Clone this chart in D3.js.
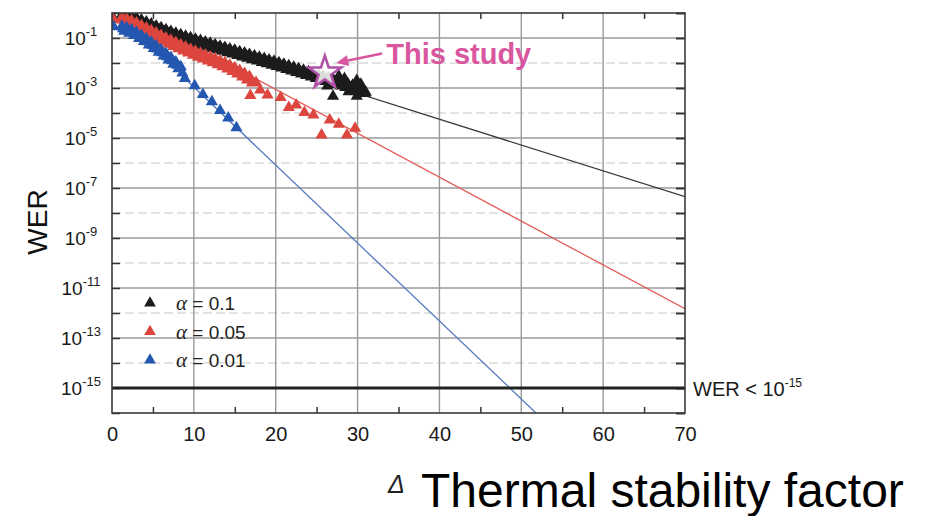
<!DOCTYPE html>
<html><head><meta charset="utf-8">
<script src="https://cdn.jsdelivr.net/npm/d3@7"></script>
<style>
body{margin:0;background:#fff;}
text{font-family:"Liberation Sans",Arial,Helvetica,sans-serif;}
</style></head><body>
<svg id="chart" width="926" height="516"></svg>
<script>
// Axis ticks
const xTicks = [0, 10, 20, 30, 40, 50, 60, 70];
const xMinorTicks = [5, 15, 25, 35, 45, 55, 65];
const yDecades = d3.range(-16, 1);               // every decade 10^-16 .. 10^0
const yLabelExponents = [-1, -3, -5, -7, -9, -11, -13, -15];

// Measured write error rate, [Δ, log10(WER)]
const blackPoints = [[0.2,-0.22],[1.2,-0.07],[1.5,-0.24],[1.8,-0.09],[2.1,-0.28],[2.4,-0.13],[2.7,-0.34],[3.0,-0.20],[3.3,-0.42],[3.6,-0.28],[3.9,-0.50],[4.2,-0.36],[4.5,-0.58],[4.8,-0.44],[5.1,-0.66],[5.4,-0.52],[5.7,-0.74],[6.0,-0.59],[6.3,-0.81],[6.6,-0.67],[6.9,-0.88],[7.2,-0.74],[7.5,-0.95],[7.8,-0.81],[8.1,-1.02],[8.4,-0.87],[8.7,-1.08],[9.0,-0.93],[9.3,-1.14],[9.6,-0.99],[9.9,-1.20],[10.2,-1.05],[10.5,-1.26],[10.8,-1.10],[11.1,-1.31],[11.4,-1.16],[11.7,-1.37],[12.0,-1.21],[12.3,-1.42],[12.6,-1.27],[12.9,-1.48],[13.2,-1.33],[13.5,-1.53],[13.8,-1.38],[14.1,-1.59],[14.4,-1.44],[14.7,-1.64],[15.0,-1.49],[15.3,-1.70],[15.6,-1.55],[15.9,-1.76],[16.2,-1.60],[16.5,-1.81],[16.8,-1.66],[17.1,-1.87],[17.4,-1.71],[17.7,-1.92],[18.0,-1.77],[18.3,-1.98],[18.6,-1.82],[18.9,-2.03],[19.2,-1.88],[19.5,-2.09],[19.8,-1.93],[20.1,-2.14],[20.4,-1.99],[20.7,-2.20],[21.0,-2.05],[21.3,-2.26],[21.6,-2.11],[21.9,-2.32],[22.2,-2.17],[22.5,-2.38],[22.8,-2.23],[23.1,-2.44],[23.4,-2.29],[23.7,-2.50],[24.0,-2.35],[24.3,-2.56],[24.6,-2.41],[24.9,-2.62],[25.2,-2.47],[25.5,-2.68],[25.8,-2.53],[26.1,-2.74],[26.4,-2.59],[26.7,-2.80],[27.0,-2.65],[27.3,-2.86],[27.6,-2.71],[27.9,-2.92],[28.2,-2.77],[28.5,-2.98],[28.8,-2.83],[29.1,-3.04],[29.4,-2.89],[29.7,-3.10],[30.0,-2.95],[30.3,-3.16],[30.6,-3.01],[30.9,-3.22],[27.7,-2.52],[29.9,-2.70],[27.0,-3.33],[29.9,-3.33],[26.3,-2.92],[28.9,-3.15],[31.0,-3.17],[30.4,-2.85],[28.4,-2.62],
  [1.35,-0.15],[1.65,-0.16],[1.95,-0.18],[2.25,-0.20],[2.55,-0.23],[2.85,-0.27],[3.15,-0.31],[3.45,-0.35],[3.75,-0.39],[4.05,-0.43],[4.35,-0.47],[4.65,-0.51],[4.95,-0.55],[5.25,-0.59],[5.55,-0.63],[5.85,-0.66],[6.15,-0.70],[6.45,-0.74],[6.75,-0.77],[7.05,-0.81],[7.35,-0.84],[7.65,-0.88],[7.95,-0.91],[8.25,-0.94],[8.55,-0.97],[8.85,-1.00],[9.15,-1.03],[9.45,-1.06],[9.75,-1.09],[10.05,-1.12],[10.35,-1.15],[10.65,-1.18],[10.95,-1.20],[11.25,-1.23],[11.55,-1.26],[11.85,-1.29],[12.15,-1.31],[12.45,-1.34],[12.75,-1.37],[13.05,-1.40],[13.35,-1.43],[13.65,-1.45],[13.95,-1.48],[14.25,-1.51],[14.55,-1.54],[14.85,-1.56],[15.15,-1.59],[15.45,-1.62],[15.75,-1.65],[16.05,-1.68],[16.35,-1.70],[16.65,-1.73],[16.95,-1.76],[17.25,-1.79],[17.55,-1.81],[17.85,-1.84],[18.15,-1.87],[18.45,-1.90],[18.75,-1.92],[19.05,-1.95],[19.35,-1.98],[19.65,-2.01],[19.95,-2.03],[20.25,-2.06],[20.55,-2.09],[20.85,-2.12],[21.15,-2.15],[21.45,-2.18],[21.75,-2.21],[22.05,-2.24],[22.35,-2.27],[22.65,-2.30],[22.95,-2.33],[23.25,-2.36],[23.55,-2.39],[23.85,-2.42],[24.15,-2.45],[24.45,-2.48],[24.75,-2.51],[25.05,-2.54],[25.35,-2.57],[25.65,-2.60],[25.95,-2.63],[26.25,-2.66],[26.55,-2.69],[26.85,-2.72],[27.15,-2.75],[27.45,-2.78],[27.75,-2.81],[28.05,-2.84],[28.35,-2.87],[28.65,-2.90],[28.95,-2.93],[29.25,-2.96],[29.55,-2.99],[29.85,-3.02],[30.15,-3.05],[30.45,-3.08],[30.75,-3.11]];
const redPoints = [[0.2,-0.27],[1.2,-0.17],[1.5,-0.39],[1.8,-0.23],[2.1,-0.47],[2.4,-0.31],[2.7,-0.55],[3.0,-0.40],[3.3,-0.65],[3.6,-0.50],[3.9,-0.75],[4.2,-0.60],[4.5,-0.85],[4.8,-0.70],[5.1,-0.95],[5.4,-0.80],[5.7,-1.05],[6.0,-0.90],[6.3,-1.15],[6.6,-1.00],[6.9,-1.25],[7.2,-1.09],[7.5,-1.34],[7.8,-1.18],[8.1,-1.43],[8.4,-1.27],[8.7,-1.52],[9.0,-1.36],[9.3,-1.60],[9.6,-1.45],[9.9,-1.69],[10.2,-1.53],[10.5,-1.77],[10.8,-1.61],[11.1,-1.84],[11.4,-1.68],[11.7,-1.92],[12.0,-1.76],[12.3,-1.99],[12.6,-1.83],[12.9,-2.07],[13.2,-1.91],[13.5,-2.15],[13.8,-1.99],[14.1,-2.24],[14.4,-2.09],[14.7,-2.34],[15.0,-2.19],[15.3,-2.44],[15.6,-2.30],[15.9,-2.56],[16.2,-2.42],[16.5,-2.68],[16.8,-2.54],[17.1,-2.80],[16.9,-3.30],[17.6,-2.78],[18.1,-3.08],[19.0,-3.28],[20.6,-3.38],[21.6,-3.78],[22.5,-3.68],[23.5,-3.98],[24.6,-4.08],[25.6,-4.88],[26.6,-4.28],[27.7,-4.45],[28.7,-4.88],[29.7,-4.61],
  [1.35,-0.28],[1.65,-0.31],[1.95,-0.35],[2.25,-0.39],[2.55,-0.43],[2.85,-0.48],[3.15,-0.52],[3.45,-0.57],[3.75,-0.62],[4.05,-0.67],[4.35,-0.72],[4.65,-0.77],[4.95,-0.82],[5.25,-0.87],[5.55,-0.92],[5.85,-0.97],[6.15,-1.02],[6.45,-1.07],[6.75,-1.12],[7.05,-1.17],[7.35,-1.21],[7.65,-1.26],[7.95,-1.30],[8.25,-1.35],[8.55,-1.39],[8.85,-1.44],[9.15,-1.48],[9.45,-1.52],[9.75,-1.57],[10.05,-1.61],[10.35,-1.65],[10.65,-1.69],[10.95,-1.72],[11.25,-1.76],[11.55,-1.80],[11.85,-1.84],[12.15,-1.87],[12.45,-1.91],[12.75,-1.95],[13.05,-1.99],[13.35,-2.03],[13.65,-2.07],[13.95,-2.11],[14.25,-2.16],[14.55,-2.21],[14.85,-2.26],[15.15,-2.31],[15.45,-2.37],[15.75,-2.43],[16.05,-2.49],[16.35,-2.55],[16.65,-2.61],[16.95,-2.67]];
const bluePoints = [[0.2,-0.55],[1.2,-0.53],[1.5,-0.73],[1.8,-0.59],[2.1,-0.81],[2.4,-0.67],[2.7,-0.90],[3.0,-0.78],[3.3,-1.02],[3.6,-0.90],[3.9,-1.14],[4.2,-1.03],[4.5,-1.28],[4.8,-1.17],[5.1,-1.42],[5.4,-1.32],[5.7,-1.57],[6.0,-1.47],[6.3,-1.72],[6.6,-1.62],[6.9,-1.88],[7.2,-1.78],[7.5,-2.05],[7.8,-1.96],[8.1,-2.23],[8.4,-2.15],[8.6,-2.40],[8.9,-2.62],[10.1,-2.91],[11.1,-3.26],[12.2,-3.55],[13.2,-3.90],[14.2,-4.20],[15.2,-4.59],
  [1.35,-0.63],[1.65,-0.66],[1.95,-0.70],[2.25,-0.74],[2.55,-0.78],[2.85,-0.84],[3.15,-0.90],[3.45,-0.96],[3.75,-1.02],[4.05,-1.08],[4.35,-1.15],[4.65,-1.22],[4.95,-1.29],[5.25,-1.37],[5.55,-1.44],[5.85,-1.52],[6.15,-1.59],[6.45,-1.67],[6.75,-1.75],[7.05,-1.83],[7.35,-1.91],[7.65,-2.00],[7.95,-2.09],[8.25,-2.19]];

// Extrapolated fits, end points [Δ, log10(WER)]
const blackFit = [[20, -2.18], [70, -7.35]];
const redFit = [[17, -2.53], [70, -11.83]];
const blueFit = [[8.9, -2.62], [51.8, -16.0]];

const alphaValues = ["0.1", "0.05", "0.01"];
const seriesColors = ["#1c1c1c", "#dc463f", "#2457b0"];
const fitColors = ["#3a3a3a", "#e35a55", "#5578bf"];

const studyPoint = [26.0, -2.35];      // this work
const werLimitExp = -15;

const plot = {left: 112, right: 685, top: 13, bottom: 413};

const x = d3.scaleLinear().domain([0, 70]).range([plot.left, plot.right]);
const y = d3.scaleLog().domain([1e-16, 1]).range([plot.bottom, plot.top]);
const yE = e => y(Math.pow(10, e));

const svg = d3.select("#chart");

svg.append("defs").append("clipPath").attr("id", "plotClip")
  .append("rect").attr("x", plot.left).attr("y", plot.top)
  .attr("width", plot.right - plot.left).attr("height", plot.bottom - plot.top);

// horizontal grid: solid at odd decades, dashed at even
const gridG = svg.append("g");
gridG.selectAll("line.h").data(yDecades.filter(e => e > -16 && e < 0 && e !== werLimitExp))
  .join("line")
  .attr("x1", plot.left).attr("x2", plot.right)
  .attr("y1", d => yE(d)).attr("y2", d => yE(d))
  .attr("stroke", d => (d % 2 !== 0) ? "#9a9a9a" : "#c8c8c8")
  .attr("stroke-width", d => (d % 2 !== 0) ? 1.3 : 1.2)
  .attr("stroke-dasharray", d => (d % 2 !== 0) ? null : "9,4");

// vertical grid
gridG.selectAll("line.v").data(xTicks.slice(1, -1))
  .join("line")
  .attr("x1", d => x(d)).attr("x2", d => x(d))
  .attr("y1", plot.top).attr("y2", plot.bottom)
  .attr("stroke", "#999").attr("stroke-width", 1.4);

// ticks via axes (inward)
const fmtNone = () => "";
svg.append("g").attr("transform", `translate(${plot.left},0)`)
  .call(d3.axisRight(y).tickValues(yDecades.map(e => Math.pow(10, e))).tickSize(8).tickFormat(fmtNone))
  .call(g => g.select(".domain").remove())
  .call(g => g.selectAll("line").attr("stroke", "#333").attr("stroke-width", 1.5));
svg.append("g").attr("transform", `translate(${plot.right},0)`)
  .call(d3.axisLeft(y).tickValues(yDecades.map(e => Math.pow(10, e))).tickSize(9).tickFormat(fmtNone))
  .call(g => g.select(".domain").remove())
  .call(g => g.selectAll("line").attr("stroke", "#333").attr("stroke-width", 2));
svg.append("g").attr("transform", `translate(0,${plot.bottom})`)
  .call(d3.axisTop(x).tickValues(xMinorTicks).tickSize(6).tickFormat(fmtNone))
  .call(g => g.select(".domain").remove())
  .call(g => g.selectAll("line").attr("stroke", "#333").attr("stroke-width", 1.5));
svg.append("g").attr("transform", `translate(0,${plot.top})`)
  .call(d3.axisBottom(x).tickValues(xMinorTicks).tickSize(6).tickFormat(fmtNone))
  .call(g => g.select(".domain").remove())
  .call(g => g.selectAll("line").attr("stroke", "#333").attr("stroke-width", 1.5));

// x tick labels
svg.append("g").attr("transform", `translate(0,${plot.bottom})`)
  .call(d3.axisBottom(x).tickValues(xTicks).tickSize(0).tickPadding(28).tickFormat(d3.format("d")))
  .call(g => g.select(".domain").remove())
  .call(g => g.selectAll("text").attr("font-size", 20).attr("fill", "#1a1a1a")
     .attr("font-family", "'Liberation Sans', Arial, sans-serif").attr("dy", "0"));

// y tick labels 10^n
const yLab = svg.append("g").selectAll("text").data(yLabelExponents).join("text")
  .attr("x", 81).attr("y", d => yE(d) + 7)
  .attr("text-anchor", "middle").attr("fill", "#1a1a1a").attr("font-size", 19);
yLab.append("tspan").text("10");
yLab.append("tspan").attr("dy", -9).attr("font-size", 13).text(d => String(d));

// fit lines
const lineGen = d3.line().x(d => x(d[0])).y(d => yE(d[1]));
const fitG = svg.append("g").attr("clip-path", "url(#plotClip)");
[blackFit, redFit, blueFit].forEach((f, i) => {
  fitG.append("path").attr("d", lineGen(f)).attr("fill", "none")
    .attr("stroke", fitColors[i]).attr("stroke-width", 1.3);
});

// WER limit line
svg.append("line").attr("x1", plot.left).attr("x2", plot.right)
  .attr("y1", yE(werLimitExp)).attr("y2", yE(werLimitExp))
  .attr("stroke", "#222").attr("stroke-width", 3);

// markers
const tri = d3.symbol().type(d3.symbolTriangle).size(64);
const markG = svg.append("g").attr("clip-path", "url(#plotClip)");
[blackPoints, redPoints, bluePoints].forEach((pts, i) => {
  markG.append("g").selectAll("path").data(pts).join("path")
    .attr("d", tri)
    .attr("transform", d => `translate(${x(d[0])},${yE(d[1])})`)
    .attr("fill", seriesColors[i]);
});

// frame
svg.append("rect").attr("x", plot.left).attr("y", plot.top)
  .attr("width", plot.right - plot.left).attr("height", plot.bottom - plot.top)
  .attr("fill", "none").attr("stroke", "#3a3a3a").attr("stroke-width", 1.6);

// legend
const legG = svg.append("g");
alphaValues.forEach((a, i) => {
  const ly = 303 + i * 28.5;
  legG.append("path").attr("d", d3.symbol().type(d3.symbolTriangle).size(60)())
    .attr("transform", `translate(150,${ly})`).attr("fill", seriesColors[i]);
  const t = legG.append("text").attr("x", 176).attr("y", ly + 7).attr("font-size", 19).attr("fill", "#222");
  t.append("tspan").attr("font-family", "'Liberation Serif', 'Times New Roman', serif").attr("font-style", "italic").attr("font-size", 21).text("α");
  t.append("tspan").text(" = " + a);
});

// star marker for this study
const starPath = d3.symbol().type(d3.symbolStar).size(330)();
svg.append("path").attr("d", starPath)
  .attr("transform", `translate(${x(studyPoint[0])},${yE(studyPoint[1]) + 1})`)
  .attr("fill", "#fff").attr("fill-opacity", 0.85)
  .attr("stroke", "#b052a8").attr("stroke-width", 2.6).attr("stroke-linejoin", "miter");

// annotation arrow + label
const pink = "#d9579f";
const tail = [x(33.0), yE(-1.62)], tip = [x(27.4), yE(-2.0)];
const ang = Math.atan2(tip[1] - tail[1], tip[0] - tail[0]);
const headLen = 12, headW = 5.5;
const base = [tip[0] - headLen * Math.cos(ang), tip[1] - headLen * Math.sin(ang)];
svg.append("line").attr("x1", tail[0]).attr("y1", tail[1]).attr("x2", base[0]).attr("y2", base[1])
  .attr("stroke", pink).attr("stroke-width", 2.6);
svg.append("path").attr("d", d3.line()([
  tip,
  [base[0] + headW * Math.sin(ang), base[1] - headW * Math.cos(ang)],
  [base[0] - headW * Math.sin(ang), base[1] + headW * Math.cos(ang)]
]) + "Z").attr("fill", pink);
svg.append("text").attr("x", x(33.5)).attr("y", yE(-2.04))
  .attr("font-size", 29).attr("font-weight", "bold").attr("fill", pink).text("This study");

// limit label
const lim = svg.append("text").attr("x", 693).attr("y", yE(werLimitExp) + 8)
  .attr("font-size", 20).attr("fill", "#1a1a1a");
lim.append("tspan").text("WER < 10");
lim.append("tspan").attr("dy", -9).attr("font-size", 12).text(String(werLimitExp));

// axis titles
svg.append("text").attr("transform", `translate(47,222) rotate(-90)`)
  .attr("text-anchor", "middle").attr("font-size", 28).attr("fill", "#111").text("WER");
svg.append("text").attr("x", 388).attr("y", 493)
  .attr("font-family", "'Liberation Serif', 'Times New Roman', serif").attr("font-style", "italic")
  .attr("font-size", 25).attr("fill", "#222").text("Δ");
svg.append("text").attr("x", 421).attr("y", 507)
  .attr("font-size", 48).attr("fill", "#000").text("Thermal stability factor");
</script>
</body></html>
